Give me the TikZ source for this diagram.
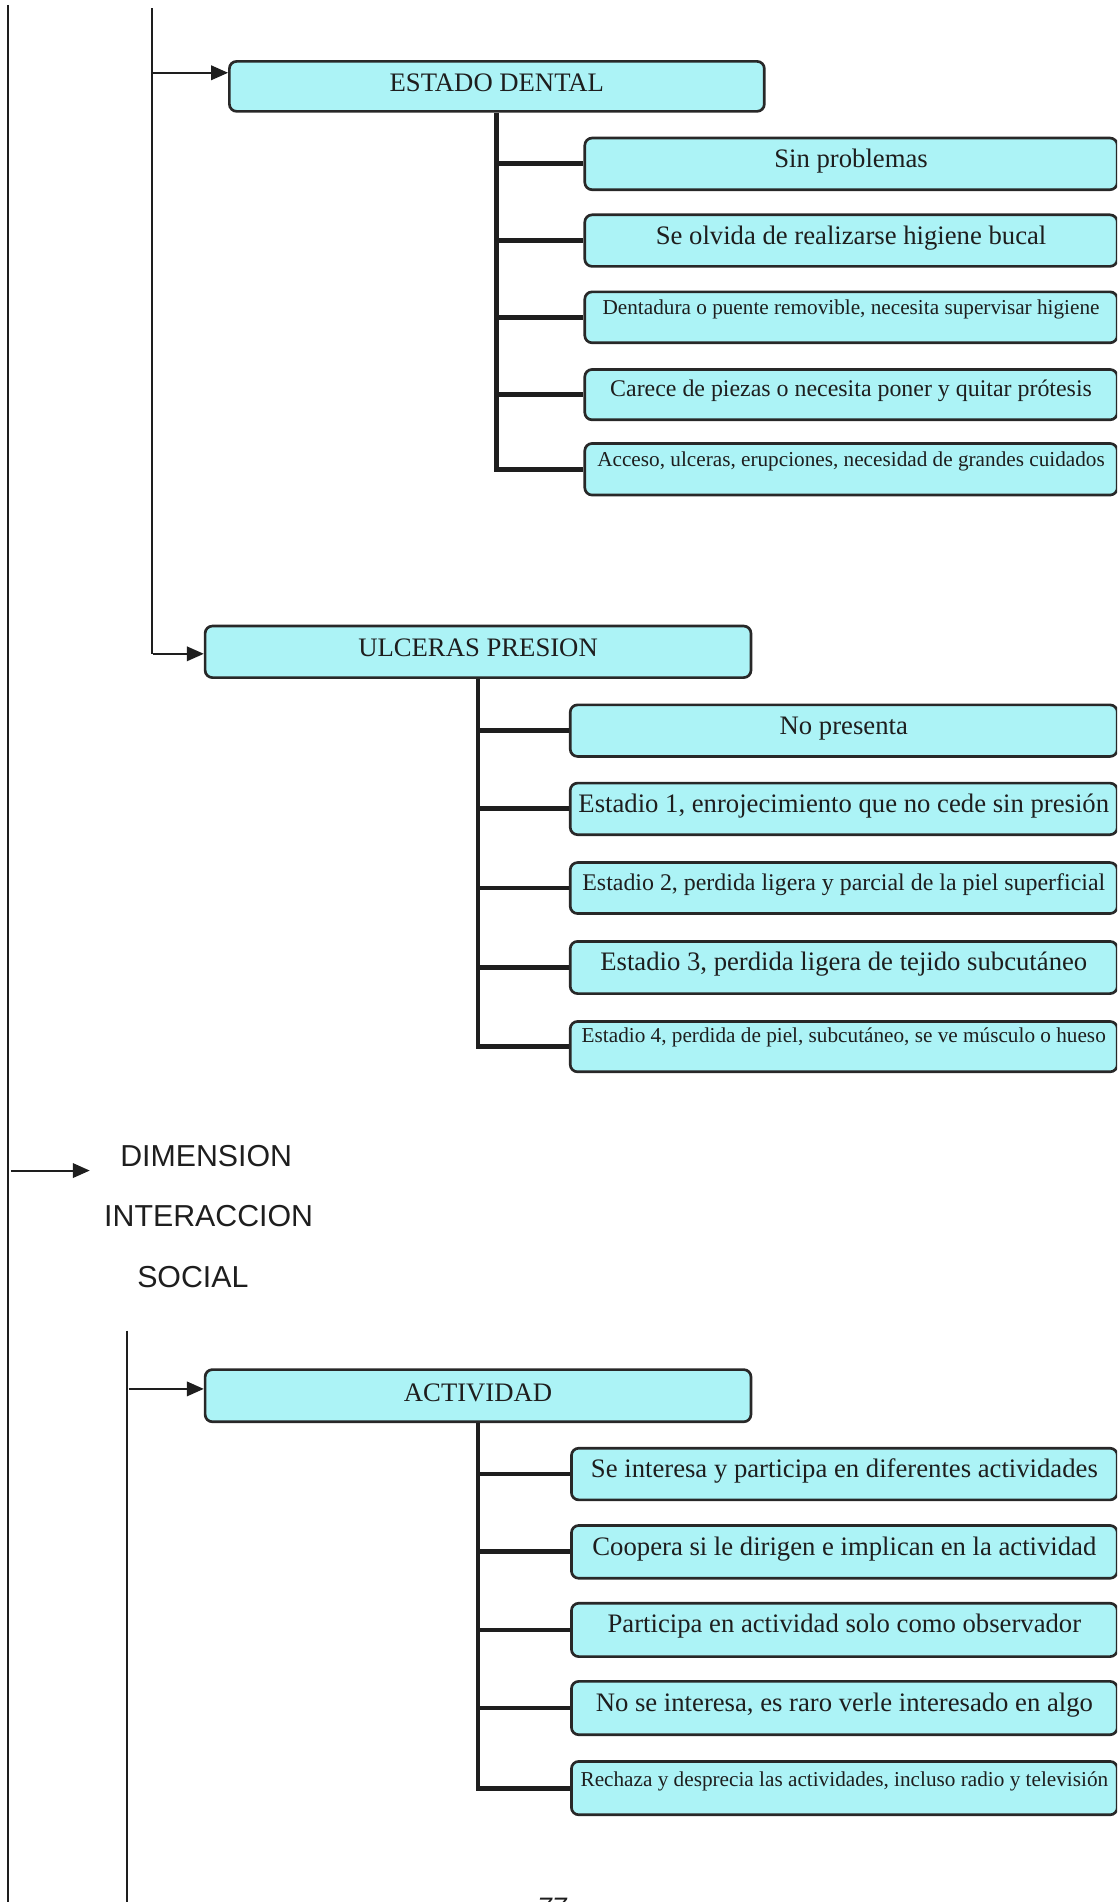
\documentclass[tikz,border=0pt]{standalone}
\usepackage{fontspec}
\setmainfont{Liberation Serif}
\newfontfamily\arialf{Liberation Sans}
\usetikzlibrary{arrows.meta}
\definecolor{boxfill}{RGB}{172,243,246}
\definecolor{boxline}{RGB}{40,40,40}
\definecolor{ink}{RGB}{30,30,30}
\newcommand\bigf{\fontsize{11}{13}\selectfont}
\newcommand\medf{\fontsize{9.85}{11.5}\selectfont}
\newcommand\smlf{\fontsize{8.75}{10.5}\selectfont}
\newcommand\cbx[8]{\node[box,font=#7,minimum width={#4*0.5pt},text height={#6*0.5pt},text depth={(#5-#6)*0.5pt}] (#1) at (#2,#3) {#8};}
\begin{document}
\begin{tikzpicture}[x=0.5pt,y=-0.5pt,
 box/.style={draw=boxline,line width=1.1pt,fill=boxfill,rounded corners=3pt,inner xsep=0pt,inner ysep=0pt,anchor=north west,text=ink},
 conn/.style={line width=2pt,draw=ink},
 thinline/.style={line width=0.8pt,draw=ink},
 arr/.style={line width=0.8pt,draw=ink,-{Triangle[length=7pt,width=6pt]}},
 lbl/.style={font=\arialf\fontsize{12.5}{14}\selectfont,anchor=base,inner sep=0pt,text=ink}]
\useasboundingbox (0,0) rectangle (921,1568);
\clip (0,0) rectangle (921,1568);

% thin vertical lines
\coordinate (L0t) at (6.5,4); \coordinate (L0b) at (6.5,1568);
\coordinate (L1t) at (125.4,7); \coordinate (L1b) at (125.4,539);
\coordinate (L2t) at (104.5,1097); \coordinate (L2b) at (104.5,1568);
\draw[thinline] (L0t) -- (L0b);
\draw[thinline] (L1t) -- (L1b);
\draw[thinline] (L2t) -- (L2b);

% header boxes
\cbx{ed}{188}{49.5}{441}{41.2}{25}{\bigf}{ESTADO DENTAL}
\cbx{up}{168}{515}{450}{42.5}{25}{\bigf}{ULCERAS PRESION}
\cbx{ac}{168}{1128}{450}{43}{26}{\bigf}{ACTIVIDAD}

% estado dental children
\cbx{e1}{481}{112.7}{439}{42.6}{24}{\bigf}{Sin problemas}
\cbx{e2}{481}{176}{439}{42.5}{24.5}{\bigf}{Se olvida de realizarse higiene bucal}
\cbx{e3}{481}{239.5}{439}{42}{19}{\smlf}{Dentadura o puente removible, necesita supervisar higiene}
\cbx{e4}{481}{303.5}{439}{41.5}{22}{\medf}{Carece de piezas o necesita poner y quitar prótesis}
\cbx{e5}{481}{364.5}{439}{42.5}{19}{\smlf}{Acceso, ulceras, erupciones, necesidad de grandes cuidados}

% ulceras children
\cbx{u1}{469}{580}{451}{42.5}{24.5}{\bigf}{No presenta}
\cbx{u2}{469}{644.5}{451}{42.5}{24}{\bigf}{Estadio 1, enrojecimiento que no cede sin presión}
\cbx{u3}{469}{710}{451}{42}{23}{\medf}{Estadio 2, perdida ligera y parcial de la piel superficial}
\cbx{u4}{469}{775}{451}{43}{24}{\bigf}{Estadio 3, perdida ligera de tejido subcutáneo}
\cbx{u5}{469}{841}{451}{41.5}{17}{\smlf}{Estadio 4, perdida de piel, subcutáneo, se ve músculo o hueso}

% actividad children
\cbx{a1}{470}{1192.8}{450}{42.6}{24}{\bigf}{Se interesa y participa en diferentes actividades}
\cbx{a2}{470}{1256.5}{450}{43.5}{24.5}{\bigf}{Coopera si le dirigen e implican en la actividad}
\cbx{a3}{470}{1320.6}{450}{44}{24.5}{\bigf}{Participa en actividad solo como observador}
\cbx{a4}{470}{1385}{450}{44}{24.5}{\bigf}{No se interesa, es raro verle interesado en algo}
\cbx{a5}{470}{1451}{450}{44}{21}{\smlf}{Rechaza y desprecia las actividades, incluso radio y televisión}

% tree connectors
\draw[conn] (ed.south) |- (e5.west);
\foreach \c in {e1,e2,e3,e4} \draw[conn] (ed.south |- \c.west) -- (\c.west);
\draw[conn] (up.south) |- (u5.west);
\foreach \c in {u1,u2,u3,u4} \draw[conn] (up.south |- \c.west) -- (\c.west);
\draw[conn] (ac.south) |- (a5.west);
\foreach \c in {a1,a2,a3,a4} \draw[conn] (ac.south |- \c.west) -- (\c.west);

% arrows
\coordinate (a1s) at (125.4,60);
\coordinate (a2s) at (126.5,539);
\coordinate (a3s) at (106,1145);
\coordinate (a4s) at (9,965);
\coordinate (a4e) at (74,965);
\draw[arr] (a1s) -- (a1s -| ed.west);
\draw[arr] (a2s) -- (a2s -| up.west);
\draw[arr] (a3s) -- (a3s -| ac.west);
\draw[arr] (a4s) -- (a4e);

% dimension label
\node[lbl] (dim1) at (170,962) {DIMENSION};
\node[lbl] (dim2) at (172,1011.5) {INTERACCION};
\node[lbl] (dim3) at (159,1061) {SOCIAL};

% page number (cut off at the page edge, as in the scan)
\node[font=\arialf\itshape\fontsize{11}{13}\selectfont,anchor=north,inner sep=0pt,text=ink] (pg) at (455,1564.5) {77};
\end{tikzpicture}
\end{document}
